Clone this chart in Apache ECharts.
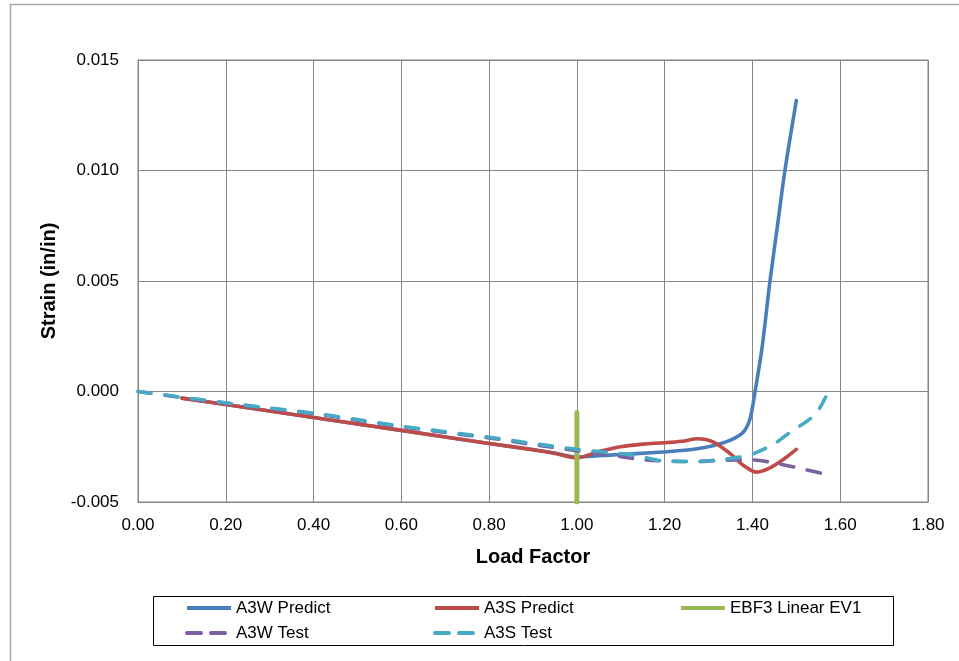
<!DOCTYPE html>
<html>
<head>
<meta charset="utf-8">
<script src="https://cdn.jsdelivr.net/npm/echarts@6/dist/echarts.min.js"></script>
<style>
html,body{margin:0;padding:0;background:#fff;}
#chart{width:959px;height:661px;}
</style>
</head>
<body>
<div id="chart"></div>
<script>
// ---- Data ----
var seriesNames = ['A3W Predict', 'A3S Predict', 'EBF3 Linear EV1', 'A3W Test', 'A3S Test'];

var a3wPredictLF = [0.10, 0.20, 0.40, 0.60, 0.80, 0.90, 0.95, 1.00, 1.05, 1.10, 1.17, 1.22, 1.27, 1.31, 1.35, 1.38, 1.395, 1.406, 1.422, 1.44, 1.457, 1.474, 1.50];
var a3wPredictStrain = [-0.00030, -0.00059, -0.00118, -0.00176, -0.00235, -0.00263, -0.00278, -0.00297, -0.00291, -0.00285, -0.00277, -0.00270, -0.00260, -0.00245, -0.00220, -0.00182, -0.00120, 0.00000, 0.00200, 0.00500, 0.00750, 0.01000, 0.01317];

var a3sPredictLF = [0.10, 0.20, 0.40, 0.60, 0.80, 0.90, 0.95, 1.00, 1.05, 1.10, 1.15, 1.20, 1.24, 1.275, 1.31, 1.35, 1.38, 1.41, 1.44, 1.47, 1.50];
var a3sPredictStrain = [-0.00030, -0.00059, -0.00118, -0.00176, -0.00235, -0.00264, -0.00281, -0.00300, -0.00272, -0.00250, -0.00238, -0.00232, -0.00225, -0.00214, -0.00228, -0.00282, -0.00335, -0.00365, -0.00346, -0.00308, -0.00262];

var ebf3LF = [1.00, 1.00];
var ebf3Strain = [-0.00500, -0.00095];

var a3wTestLF = [0.00, 0.10, 0.20, 0.30, 0.40, 0.50, 0.60, 0.70, 0.80, 0.90, 1.00, 1.05, 1.10, 1.15, 1.21, 1.27, 1.33, 1.40, 1.46, 1.52, 1.567];
var a3wTestStrain = [0.00000, -0.00027, -0.00053, -0.00077, -0.00100, -0.00130, -0.00159, -0.00185, -0.00210, -0.00240, -0.00268, -0.00282, -0.00295, -0.00308, -0.00315, -0.00317, -0.00311, -0.00310, -0.00327, -0.00353, -0.00375];

var a3sTestLF = [0.00, 0.10, 0.20, 0.30, 0.40, 0.50, 0.60, 0.70, 0.80, 0.90, 1.00, 1.07, 1.135, 1.20, 1.27, 1.33, 1.394, 1.45, 1.49, 1.52, 1.545, 1.567];
var a3sTestStrain = [0.00000, -0.00026, -0.00051, -0.00075, -0.00098, -0.00127, -0.00157, -0.00182, -0.00207, -0.00235, -0.00262, -0.00275, -0.00290, -0.00315, -0.00317, -0.00308, -0.00287, -0.00236, -0.00178, -0.00140, -0.00100, -0.00025];

var xTicks = {min: 0, max: 1.8, step: 0.2};
var yTicks = {min: -0.005, max: 0.015, step: 0.005};

// ---- Build ----
function pairs(xs, ys) { return xs.map(function (x, i) { return [x, ys[i]]; }); }

var FONT = 'Liberation Sans';
var colors = ['#4A7EBB', '#BE4B48', '#98B954', '#7D60A0', '#46AAC5'];
var dash = [13, 14];
var LW = 3.6;

function legendItem(name, left, top, dashed) {
  return {
    data: [name], left: left, top: top, orient: 'horizontal', padding: 0,
    itemWidth: 44, itemHeight: 14, itemGap: 0, selectedMode: false,
    itemStyle: {opacity: 0, borderWidth: 0},
    lineStyle: {width: 4, cap: dashed ? 'round' : 'butt', type: dashed ? [14, 10] : 'solid'},
    textStyle: {fontFamily: FONT, fontSize: 17, color: '#000', lineHeight: 20}
  };
}

var option = {
  animation: false,
  color: colors,
  textStyle: {fontFamily: FONT},
  grid: {left: 138, right: 31, top: 60, bottom: 159, show: true, borderColor: '#868686', borderWidth: 1},
  xAxis: {
    type: 'value', min: xTicks.min, max: xTicks.max, interval: xTicks.step,
    name: 'Load Factor', nameLocation: 'middle', nameGap: 45,
    nameTextStyle: {fontFamily: FONT, fontSize: 20, fontWeight: 'bold', color: '#000'},
    axisLine: {show: true, onZero: false, lineStyle: {color: '#868686', width: 1}},
    axisTick: {show: false},
    axisLabel: {margin: 15, fontFamily: FONT, fontSize: 17, color: '#000', formatter: function (v) { return v.toFixed(2); }},
    splitLine: {show: true, lineStyle: {color: '#868686', width: 1}}
  },
  yAxis: {
    type: 'value', min: yTicks.min, max: yTicks.max, interval: yTicks.step,
    name: 'Strain (in/in)', nameLocation: 'middle', nameGap: 78,
    nameTextStyle: {fontFamily: FONT, fontSize: 20, fontWeight: 'bold', color: '#000'},
    axisLine: {show: true, onZero: false, lineStyle: {color: '#868686', width: 1}},
    axisTick: {show: false},
    axisLabel: {margin: 19, fontFamily: FONT, fontSize: 17, color: '#000', formatter: function (v) { return v.toFixed(3); }},
    splitLine: {show: true, lineStyle: {color: '#868686', width: 1}}
  },
  legend: [
    legendItem(seriesNames[0], 185, 598, false),
    legendItem(seriesNames[1], 433, 598, false),
    legendItem(seriesNames[2], 679, 598, false),
    legendItem(seriesNames[3], 185, 623, true),
    legendItem(seriesNames[4], 433, 623, true)
  ],
  graphic: [
    {type: 'rect', shape: {x: 10.5, y: 4.5, width: 1200, height: 1200}, style: {fill: 'none', stroke: '#a6a6a6', lineWidth: 1.5}, silent: true, z: -1},
    {type: 'rect', shape: {x: 153.5, y: 596.5, width: 740, height: 49}, style: {fill: 'none', stroke: '#000', lineWidth: 1}, silent: true}
  ],
  series: [
    {name: seriesNames[0], type: 'line', data: pairs(a3wPredictLF, a3wPredictStrain), symbol: 'none', smooth: 0.3,
     lineStyle: {width: LW, color: colors[0], cap: 'round', join: 'round'}},
    {name: seriesNames[1], type: 'line', data: pairs(a3sPredictLF, a3sPredictStrain), symbol: 'none', smooth: 0.3,
     lineStyle: {width: LW, color: colors[1], cap: 'round', join: 'round'}},
    {name: seriesNames[2], type: 'line', data: pairs(ebf3LF, ebf3Strain), symbol: 'none',
     lineStyle: {width: 5, color: colors[2], cap: 'round'}},
    {name: seriesNames[3], type: 'line', data: pairs(a3wTestLF, a3wTestStrain), symbol: 'none', smooth: 0.3,
     lineStyle: {width: LW, color: colors[3], type: dash, cap: 'round'}},
    {name: seriesNames[4], type: 'line', data: pairs(a3sTestLF, a3sTestStrain), symbol: 'none', smooth: 0.3,
     lineStyle: {width: LW, color: colors[4], type: dash, cap: 'round'}}
  ]
};

var chart = echarts.init(document.getElementById('chart'), null, {renderer: 'canvas'});
chart.setOption(option);
</script>
</body>
</html>
